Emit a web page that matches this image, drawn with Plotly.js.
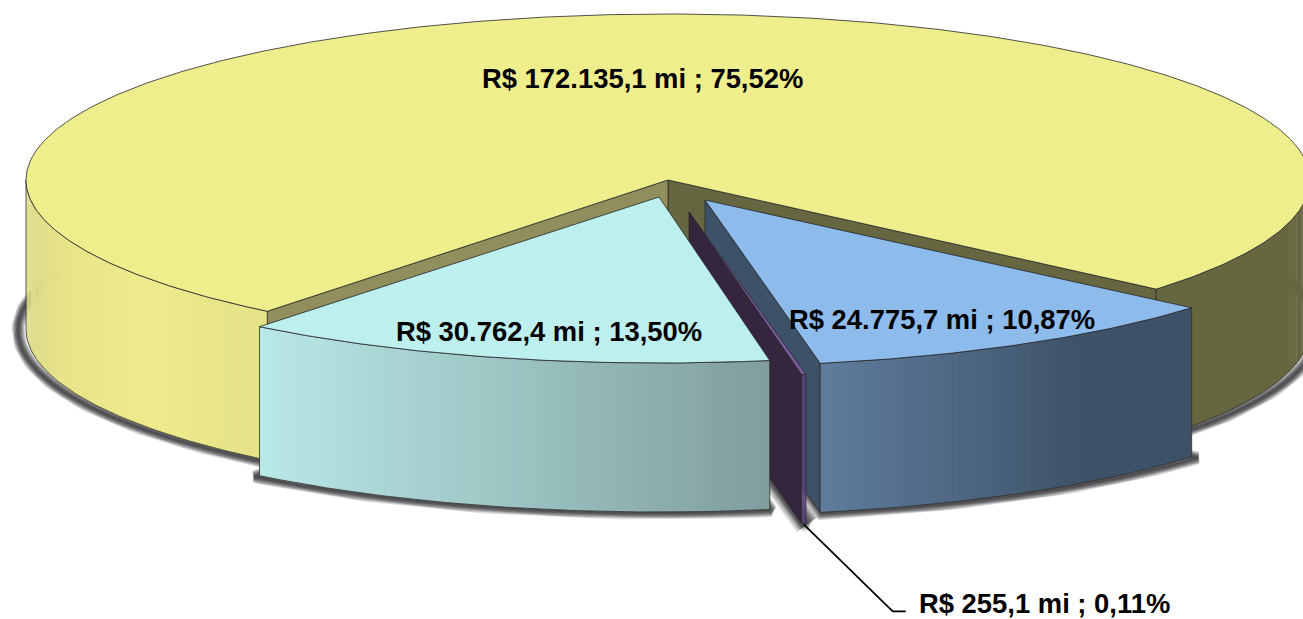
<!DOCTYPE html>
<html>
<head>
<meta charset="utf-8">
<script src="https://cdn.plot.ly/plotly-3.0.1.min.js"></script>
<style>html,body{margin:0;padding:0;background:#fff}#c{width:1303px;height:619px}</style>
</head>
<body>
<div id="c"></div>
<script>
// ---------- data ----------
const categories = ['amarelo', 'ciano', 'roxo', 'azul'];
const values = [172135.1, 30762.4, 255.1, 24775.7];
const valueLabels = ['172.135,1', '30.762,4', '255,1', '24.775,7'];
const percentLabels = ['75,52', '13,50', '0,11', '10,87'];

// ---------- styling and 3D projection (not data) ----------
const startDeg = 49.5, depth = 149;
const geom = [
  {vx:668, vy:180, rx:642, ryT:166, ryB:168},
  {vx:659, vy:197, rx:640, ryT:166, ryB:166},
  {vx:689, vy:212, rx:650, ryT:165, ryB:165},
  {vx:705, vy:200, rx:640, ryT:166, ryB:166}
];
const topColors = ['#EEEE8C', '#BDEFEE', '#7B5C9E', '#8DBBEC'];
const wallColors = [['#666640', '#8F8E5C'], [null, null], ['#35253F', null], ['#3D5268', null]];
const rimStops = [
  [[0,'#DDDA8A'],[0.18,'#E8E589'],[0.5,'#EDEB8B'],[1,'#E5E288']],
  [[0,'#B9E8E8'],[1,'#7F9E9D']],
  [[0,'#5A4080'],[1,'#5A4080']],
  [[0,'#5F7D9E'],[0.72,'#3D5268'],[1,'#3D5268']]
];
const labelPos = [[642,78],[549,331],[1044,603],[942,319]];

const total = values.reduce((a,b)=>a+b,0);
const rad = d => d*Math.PI/180;
function pt(i, deg, z, grow){
  const g = geom[i], c = Math.cos(rad(deg));
  return [g.vx + (g.rx+(grow||0))*Math.sin(rad(deg)), g.vy + (c>0?g.ryB:g.ryT)*c + (z||0)];
}
function arc(i, a, b, z, grow){
  const n = Math.max(2, Math.ceil(Math.abs(b-a)/0.5)), out = [];
  for(let k=0;k<=n;k++) out.push(pt(i, a+(b-a)*k/n, z, grow));
  return out;
}
const hex = s => [1,3,5].map(p=>parseInt(s.substr(p,2),16));
function colorAt(stops, t){
  for(let k=1;k<stops.length;k++){
    if(t<=stops[k][0]){
      const f=(t-stops[k-1][0])/(stops[k][0]-stops[k-1][0]||1), A=hex(stops[k-1][1]), B=hex(stops[k][1]);
      return 'rgb('+A.map((v,j)=>Math.round(v+(B[j]-v)*f)).join(',')+')';
    }
  }
  return stops[stops.length-1][1];
}
const traces = [];
function poly(points, fill, line, w){
  traces.push({type:'scatter', mode:'lines', x:points.map(p=>p[0]), y:points.map(p=>p[1]),
    fill: fill?'toself':'none', fillcolor: fill||undefined,
    line:{color:line||'rgba(0,0,0,0)', width:line?(w===undefined?0.8:w):0},
    hoverinfo:'skip', showlegend:false});
}
// slice angle spans from the values
let cum = startDeg;
const spans = values.map(v=>{const s=[cum,cum+v/total*360]; cum=s[1]; return s;});

function shadow(i, a, b, scale){
  const base = arc(i,a,b,depth+1,8);
  const v = [geom[i].vx, geom[i].vy+depth+1];
  const loop = [v].concat(base).concat([v]);
  [13,11,9.5,8,6.5,5,3.5,2].forEach(w=>poly(loop,null,'rgba(25,25,30,0.16)',w*(scale||1)));
}
function wall(i, deg, color){
  const g=[geom[i].vx,geom[i].vy], e=pt(i,deg);
  poly([g,e,[e[0],e[1]+depth],[g[0],g[1]+depth],g],color,'#2a2a20',0.7);
}
function rim(i, a, b, stops){
  const A=pt(i,a)[0], B=pt(i,b)[0], n=Math.max(8,Math.ceil(Math.abs(b-a)/0.6));
  const xmin=Math.min(A,B), xmax=Math.max(A,B);
  for(let k=0;k<n;k++){
    const s=a+(b-a)*k/n, e=a+(b-a)*Math.min(n,k+1.3)/n;
    const up=arc(i,s,e), bot=arc(i,e,s,depth);
    const mid=pt(i,(s+e)/2)[0];
    poly(up.concat(bot).concat([up[0]]),colorAt(stops,(mid-xmin)/(xmax-xmin)));
  }
  const up=arc(i,a,b), bot=arc(i,b,a,depth);
  poly(up.concat(bot).concat([up[0]]),null,'#30302a',0.8);
}
function topFace(i, a, b, color){
  const g=[geom[i].vx,geom[i].vy];
  poly([g].concat(arc(i,a,b)).concat([g]),color,'#26262a',0.8);
}

const [Y,C,P,B] = [0,1,2,3];
// shadows
shadow(Y,spans[Y][0],spans[Y][1]);
shadow(C,spans[C][0],spans[C][1]);
shadow(P,spans[P][0],spans[P][1],2);
shadow(B,spans[B][0],spans[B][1]);
// big slice: inner walls, outer rim, top
wall(Y,spans[Y][0],wallColors[Y][0]);
wall(Y,spans[Y][1],wallColors[Y][1]);
rim(Y,270,spans[Y][1],rimStops[Y]);
rim(Y,spans[Y][0],90,[[0,'#666640'],[1,'#666640']]);
topFace(Y,spans[Y][0],spans[Y][1],topColors[Y]);
// blue wall, sliver, then blue and cyan
wall(B,spans[B][0],wallColors[B][0]);
wall(P,spans[P][0],wallColors[P][0]);
rim(P,spans[P][0],spans[P][1],rimStops[P]);
topFace(P,spans[P][0],spans[P][1],topColors[P]);
rim(B,spans[B][0],spans[B][1],rimStops[B]);
topFace(B,spans[B][0],spans[B][1],topColors[B]);
rim(C,spans[C][0],spans[C][1],rimStops[C]);
topFace(C,spans[C][0],spans[C][1],topColors[C]);
// leader line for the sliver's label
const foot = pt(P,(spans[P][0]+spans[P][1])/2,depth+1);
poly([foot,[foot[0]+89,foot[1]+87],[foot[0]+102,foot[1]+87]],null,'#000',1.7);

const annotations = categories.map((c,i)=>({
  x:labelPos[i][0], y:labelPos[i][1], xref:'x', yref:'y', showarrow:false,
  xanchor:'center', yanchor:'middle',
  text:'<b>R$ '+valueLabels[i]+' mi ; '+percentLabels[i]+'%</b>',
  font:{family:'"Liberation Sans", Arial, sans-serif', size:27.4, color:'#000'}
}));

Plotly.newPlot('c', traces, {
  width:1303, height:619, margin:{l:0,r:0,t:0,b:0},
  paper_bgcolor:'#fff', plot_bgcolor:'#fff', showlegend:false,
  xaxis:{range:[0,1303], visible:false, fixedrange:true},
  yaxis:{range:[619,0], visible:false, fixedrange:true},
  annotations
}, {displayModeBar:false, staticPlot:true});
</script>
</body>
</html>
